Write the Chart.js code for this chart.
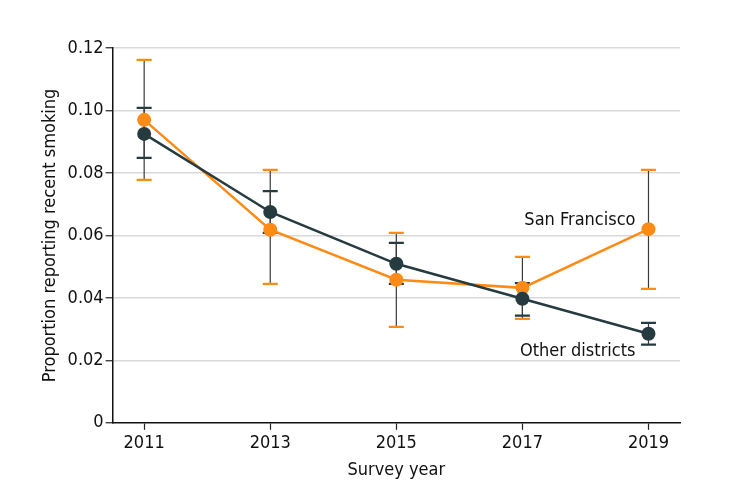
<!DOCTYPE html>
<html>
<head>
<meta charset="utf-8">
<script src="https://cdn.jsdelivr.net/npm/chart.js@4.4.1/dist/chart.umd.min.js"></script>
<style>
html,body{margin:0;padding:0;background:#fff;}
#wrap{width:735px;height:498px;position:relative;}
</style>
</head>
<body>
<div id="wrap"><canvas id="c" width="735" height="498"></canvas></div>
<script>
const years = [2011, 2013, 2015, 2017, 2019];
const sfValues = [0.097, 0.0618, 0.0458, 0.0432, 0.062];
const sfLower = [0.0778, 0.0445, 0.0307, 0.0333, 0.0429];
const sfUpper = [0.1162, 0.081, 0.0608, 0.0531, 0.081];
const otherValues = [0.0925, 0.0675, 0.0509, 0.0397, 0.0285];
const otherLower = [0.0848, 0.0608, 0.0445, 0.0343, 0.025];
const otherUpper = [0.1008, 0.0742, 0.0576, 0.0447, 0.032];
const yTicks = [0, 0.02, 0.04, 0.06, 0.08, 0.10, 0.12];
const seriesNames = ['San Francisco', 'Other districts'];

const DARK = '#253b40';
const ORANGE = '#ff8b17';
const FONT = "'DejaVu Sans Condensed', 'Liberation Sans Narrow', sans-serif";

const errorBars = {
  id: 'errorBars',
  beforeDatasetsDraw(chart) {
    const ctx = chart.ctx;
    const xs = chart.scales.x, ys = chart.scales.y;
    const sets = [
      {lo: otherLower, hi: otherUpper, color: DARK},
      {lo: sfLower, hi: sfUpper, color: ORANGE}
    ];
    ctx.save();
    sets.forEach(s => {
      years.forEach((yr, i) => {
        const px = xs.getPixelForValue(yr);
        const top = ys.getPixelForValue(s.hi[i]);
        const bot = ys.getPixelForValue(s.lo[i]);
        ctx.strokeStyle = '#3a3a3a';
        ctx.lineWidth = 1.2;
        ctx.beginPath(); ctx.moveTo(px, top); ctx.lineTo(px, bot); ctx.stroke();
        ctx.strokeStyle = s.color;
        ctx.lineWidth = 2.2;
        ctx.beginPath();
        ctx.moveTo(px - 7.5, top); ctx.lineTo(px + 7.5, top);
        ctx.moveTo(px - 7.5, bot); ctx.lineTo(px + 7.5, bot);
        ctx.stroke();
      });
    });
    ctx.restore();
  },
  afterDatasetsDraw(chart) {
    const ctx = chart.ctx;
    const xs = chart.scales.x, ys = chart.scales.y;
    const last = years.length - 1;
    const px = xs.getPixelForValue(years[last]);
    ctx.save();
    ctx.font = '18px ' + FONT;
    ctx.fillStyle = '#111';
    ctx.textAlign = 'right';
    ctx.textBaseline = 'middle';
    ctx.fillText(seriesNames[0], px - 13, ys.getPixelForValue(sfValues[last]) - 9);
    ctx.fillText(seriesNames[1], px - 13, ys.getPixelForValue(otherValues[last]) + 18);
    ctx.restore();
  }
};

new Chart(document.getElementById('c'), {
  type: 'line',
  data: {
    datasets: [
      {
        label: seriesNames[1],
        data: years.map((y, i) => ({x: y, y: otherValues[i]})),
        borderColor: DARK, backgroundColor: DARK,
        borderWidth: 2.5, pointRadius: 7, pointHoverRadius: 7,
        pointBorderWidth: 0, tension: 0
      },
      {
        label: seriesNames[0],
        data: years.map((y, i) => ({x: y, y: sfValues[i]})),
        borderColor: ORANGE, backgroundColor: ORANGE,
        borderWidth: 2.5, pointRadius: 7, pointHoverRadius: 7,
        pointBorderWidth: 0, tension: 0
      }
    ]
  },
  options: {
    responsive: false,
    animation: false,
    devicePixelRatio: 1,
    layout: {padding: {top: 48, right: 55, bottom: 17, left: 40}},
    plugins: {legend: {display: false}, tooltip: {enabled: false}},
    scales: {
      x: {
        type: 'linear', min: 2010.5, max: 2019.5,
        afterBuildTicks: s => { s.ticks = years.map(v => ({value: v})); },
        ticks: {
          callback: v => String(v), color: '#111',
          font: {family: FONT, size: 18}, padding: 3, maxRotation: 0
        },
        grid: {drawOnChartArea: false, drawTicks: true, tickLength: 7, tickColor: '#222', tickWidth: 1.2},
        border: {color: '#111', width: 1.5},
        title: {display: true, text: 'Survey year', color: '#111', font: {family: FONT, size: 18}, padding: {top: 2, bottom: 0}}
      },
      y: {
        min: 0, max: 0.12,
        afterBuildTicks: s => { s.ticks = yTicks.map(v => ({value: v})); },
        ticks: {
          callback: v => v === 0 ? '0' : v.toFixed(2), color: '#111',
          font: {family: FONT, size: 18}, padding: 2
        },
        grid: {
          color: ctx => ctx.tick && ctx.tick.value === 0 ? 'rgba(0,0,0,0)' : '#d9d9d9',
          lineWidth: 1.5, drawTicks: true, tickLength: 7, tickColor: '#222', tickWidth: 1.2
        },
        border: {color: '#111', width: 1.5},
        title: {display: true, text: 'Proportion reporting recent smoking', color: '#111', font: {family: FONT, size: 18}, padding: {top: 0, bottom: 4}}
      }
    }
  },
  plugins: [errorBars]
});
</script>
</body>
</html>
